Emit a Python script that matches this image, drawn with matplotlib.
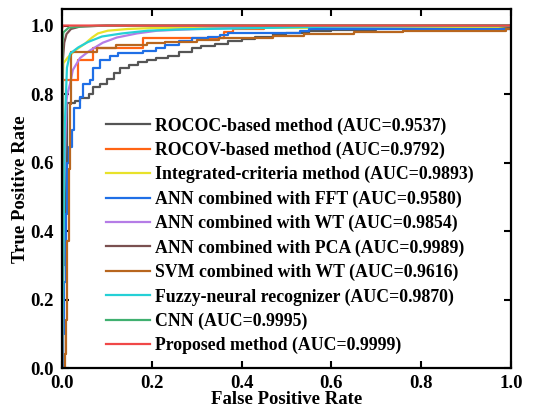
import matplotlib
matplotlib.use('Agg')
import matplotlib.pyplot as plt

plt.rcParams['font.family'] = ['Liberation Serif', 'DejaVu Serif']
plt.rcParams['font.weight'] = 'bold'

# ROC curves (fpr, tpr)
rococ_fpr = [0, 0.003, 0.006, 0.012, 0.03, 0.04, 0.06, 0.07, 0.085, 0.1, 0.115, 0.13, 0.15, 0.17, 0.19, 0.21,
             0.235, 0.26, 0.29, 0.31, 0.34, 0.37, 0.4, 0.43, 0.47, 0.5, 0.55, 0.6, 0.7, 0.85, 1.0]
rococ_tpr = [0, 0.3, 0.6, 0.773, 0.78, 0.787, 0.8, 0.82, 0.83, 0.845, 0.86, 0.875, 0.885, 0.893, 0.898, 0.905,
             0.912, 0.922, 0.933, 0.94, 0.947, 0.955, 0.962, 0.968, 0.974, 0.977, 0.983, 0.988, 0.992, 0.996, 1.0]

rocov_fpr = [0, 0.002, 0.035, 0.07, 0.18, 0.36, 0.38, 0.45, 1.0]
rocov_tpr = [0, 0.84, 0.898, 0.935, 0.965, 0.98, 0.99, 0.998, 1.0]

integ_fpr = [0, 0.002, 0.003, 0.013, 0.029, 0.051, 0.067, 0.08, 0.102, 0.147, 0.207, 0.4, 0.95, 1.0]
integ_tpr = [0, 0.85, 0.89, 0.907, 0.927, 0.947, 0.965, 0.977, 0.985, 0.99, 0.993, 0.993, 0.993, 1.0]

fft_fpr = [0, 0.002, 0.005, 0.008, 0.012, 0.016, 0.022, 0.027, 0.04, 0.047, 0.062, 0.07, 0.085, 0.107, 0.125,
           0.18, 0.21, 0.23, 0.26, 0.29, 0.325, 0.353, 0.37, 0.53, 0.55, 1.0]
fft_tpr = [0, 0.1, 0.25, 0.45, 0.6, 0.644, 0.694, 0.76, 0.79, 0.83, 0.84, 0.877, 0.898, 0.912, 0.921,
           0.927, 0.933, 0.942, 0.956, 0.965, 0.968, 0.971, 0.977, 0.983, 0.99, 1.0]

wt_fpr = [0, 0.004, 0.01, 0.012, 0.018, 0.024, 0.04, 0.062, 0.091, 0.122, 0.167, 0.212, 0.3, 0.5, 1.0]
wt_tpr = [0, 0.5, 0.78, 0.8, 0.83, 0.87, 0.905, 0.927, 0.95, 0.965, 0.977, 0.985, 0.99, 0.996, 1.0]

pca_fpr = [0, 0.002, 0.005, 0.01, 0.02, 0.04, 0.1, 1.0]
pca_tpr = [0, 0.9, 0.95, 0.975, 0.99, 0.997, 1.0, 1.0]

svm_fpr = [0, 0.006, 0.008, 0.012, 0.016, 0.018, 0.02, 0.078, 0.12, 0.19, 0.23, 0.3, 0.35, 0.47, 0.54,
           0.65, 0.76, 0.99, 1.0]
svm_tpr = [0, 0.04, 0.14, 0.37, 0.58, 0.77, 0.924, 0.933, 0.942, 0.948, 0.952, 0.959, 0.965, 0.969, 0.974,
           0.98, 0.985, 0.99, 1.0]

fuzzy_fpr = [0, 0.003, 0.006, 0.011, 0.018, 0.036, 0.058, 0.089, 0.134, 0.191, 0.27, 0.45, 0.6, 1.0]
fuzzy_tpr = [0, 0.3, 0.7, 0.877, 0.918, 0.936, 0.952, 0.968, 0.977, 0.985, 0.989, 0.993, 0.997, 1.0]

cnn_fpr = [0, 0.001, 0.003, 0.015, 0.05, 0.1, 1.0]
cnn_tpr = [0, 0.95, 0.98, 0.994, 0.998, 1.0, 1.0]

prop_fpr = [0, 0.0, 0.002, 1.0]
prop_tpr = [0, 0.99, 1.0, 1.0]

labels = ['ROCOC-based method (AUC=0.9537)',
          'ROCOV-based method (AUC=0.9792)',
          'Integrated-criteria method (AUC=0.9893)',
          'ANN combined with FFT (AUC=0.9580)',
          'ANN combined with WT (AUC=0.9854)',
          'ANN combined with PCA (AUC=0.9989)',
          'SVM combined with WT (AUC=0.9616)',
          'Fuzzy-neural recognizer (AUC=0.9870)',
          'CNN (AUC=0.9995)',
          'Proposed method (AUC=0.9999)']
colors = ['#555555', '#ff6414', '#e8e22a', '#1f6fe6', '#b57ce6', '#7a5050', '#b8661e', '#25d0d6',
          '#40b070', '#f04848']
curves = [(rococ_fpr, rococ_tpr, 'steps-post'), (rocov_fpr, rocov_tpr, 'steps-post'),
          (integ_fpr, integ_tpr, 'default'), (fft_fpr, fft_tpr, 'steps-post'),
          (wt_fpr, wt_tpr, 'default'), (pca_fpr, pca_tpr, 'default'),
          (svm_fpr, svm_tpr, 'steps-post'), (fuzzy_fpr, fuzzy_tpr, 'default'),
          (cnn_fpr, cnn_tpr, 'default'), (prop_fpr, prop_tpr, 'default')]

fig = plt.figure(figsize=(5.35, 4.11), dpi=100)
ax = fig.add_axes([0.1159, 0.1046, 0.8392, 0.8724])

for (x, y, ds), lab, c in zip(curves, labels, colors):
    ax.plot(x, y, color=c, lw=1.6, drawstyle=ds, label=lab)

ax.set_xlim(0, 1)
ax.set_ylim(0, 1.047)
ticks = [0, 0.2, 0.4, 0.6, 0.8, 1.0]
ticklabels = ['0.0', '0.2', '0.4', '0.6', '0.8', '1.0']
ax.set_xticks(ticks)
ax.set_yticks(ticks)
ax.set_xticklabels(ticklabels, fontsize=13.5, fontweight='bold')
ax.set_yticklabels(ticklabels, fontsize=13.5, fontweight='bold')
ax.tick_params(direction='in', length=5, width=1.5, top=True, right=True)
ax.tick_params(axis='x', pad=5)
ax.tick_params(axis='y', pad=6)
for s in ax.spines.values():
    s.set_linewidth(1.6)

ax.set_xlabel('False Positive Rate', fontsize=13.5, fontweight='bold', labelpad=-1)
ax.set_ylabel('True Positive Rate', fontsize=13.5, fontweight='bold', labelpad=1)

ax.legend(loc='lower left', bbox_to_anchor=(0.083, 0.018), frameon=False,
          handlelength=2.45, handletextpad=0.3, labelspacing=0.4, borderaxespad=0,
          prop={'weight': 'bold', 'size': 12.8})

fig.savefig('out.png', dpi=100)
